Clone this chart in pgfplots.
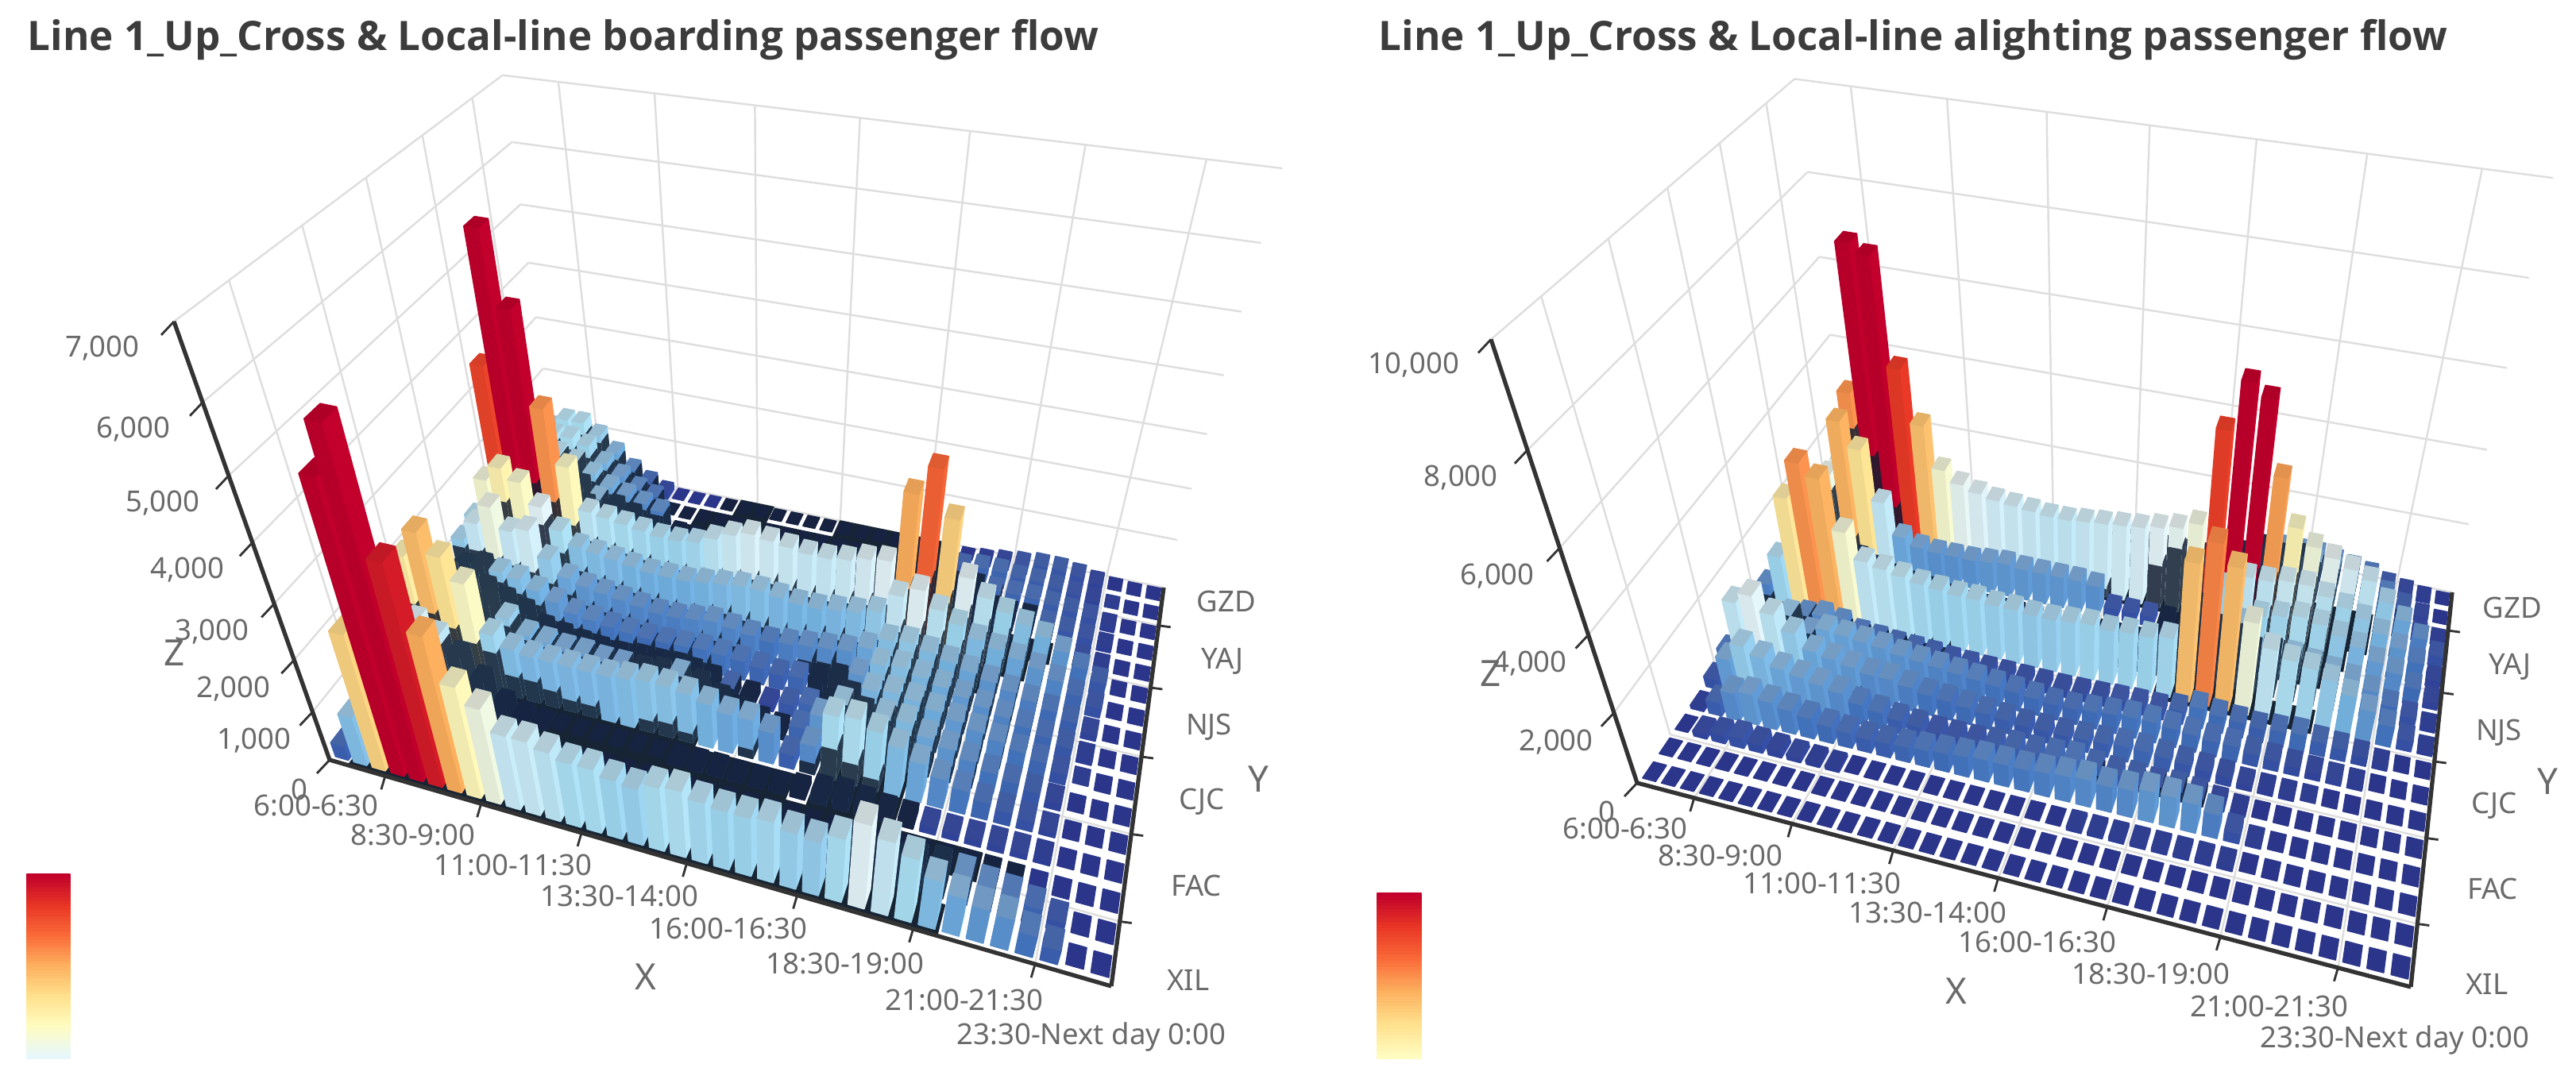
\documentclass[border=0pt]{standalone}
\usepackage{fontspec}
\setmainfont{Noto Sans}
\newfontfamily\titlefont{Open Sans}
\usepackage{pgfplots}
\usepackage{pgfplotstable}
\pgfplotsset{compat=1.18}
\usepgfplotslibrary{patchplots}

\definecolor{gridc}{HTML}{DEDEDE}
\definecolor{axisc}{HTML}{333333}
\definecolor{labc}{HTML}{6A6A6A}
\definecolor{titlec}{HTML}{3C3C3C}

% boarding, rows XIL (front) to GZD (back), columns 6:00 ... 23:30
\pgfplotstableread[header=false]{
300 1000 2650 5200 6000 4100 3000 2200 1900 1500 1500 1400 1300 1300 1200 1150 1300 1350 1250 1200 1200 1250 1150 1100 1300 1700 1500 1300 1000 800 700 650 450 300 60 40
300 700 1000 1200 900 700 500 400 350 300 300 300 280 280 280 280 280 300 300 300 300 300 300 300 350 400 500 600 650 600 500 450 350 200 50 40
400 1000 900 700 400 200 120 60 60 60 60 60 60 60 60 60 60 60 60 60 60 60 60 60 60 60 60 80 100 100 100 80 60 50 40 40
900 1700 1600 1400 1100 700 300 150 100 90 80 80 80 80 80 100 130 130 100 100 100 150 250 300 250 200 180 150 130 130 130 120 100 50 40 40
800 2350 2860 2500 2100 1200 1000 950 950 950 950 950 1000 1050 1050 1000 900 800 800 650 300 600 1300 1350 1200 1000 800 600 480 350 270 200 110 50 40 40
900 1500 1700 1500 1300 1100 850 800 750 750 700 700 700 750 800 700 500 350 250 200 350 700 1050 950 1000 1000 800 680 550 420 330 250 150 60 40 40
800 1100 1100 1100 950 800 550 480 420 380 350 350 350 380 400 350 300 200 150 250 350 450 700 950 1000 950 850 750 650 550 450 350 220 90 45 40
800 1000 1100 1050 1000 850 700 550 500 450 420 400 400 420 450 430 400 350 300 350 400 500 700 1000 1050 950 850 750 650 550 450 350 250 100 45 40
1100 1500 1900 1500 1600 1100 800 700 650 600 550 500 500 550 600 550 500 450 500 550 600 650 800 1050 1100 1000 900 800 700 600 500 400 280 120 50 40
1200 2000 2300 2100 1700 1300 1050 1000 950 900 850 850 850 900 950 1000 1000 950 900 900 950 1000 1100 1500 1700 1400 1200 1000 900 800 700 550 350 200 50 40
1500 3760 5980 4800 3200 2200 1400 1350 1300 1250 1200 1200 1250 1400 1550 1650 1600 1550 1500 1500 1550 1650 1700 3000 3500 2700 1700 1400 1200 1050 900 700 450 250 60 40
1000 1500 1700 1500 1300 1100 900 700 300 120 100 100 100 100 100 100 100 100 100 100 100 100 200 400 500 500 450 400 350 350 300 250 180 100 40 40
1200 1500 1500 1300 1100 900 800 700 500 120 90 90 90 90 90 80 80 80 80 80 80 100 150 250 300 300 350 350 350 350 300 250 200 100 40 40
1500 1400 1300 1200 1000 800 700 600 500 100 90 80 80 80 80 80 80 80 80 80 80 100 150 250 300 300 350 350 350 350 300 250 200 100 40 40
1200 1300 1300 1200 900 700 500 400 80 60 60 60 60 60 60 60 60 60 60 60 60 60 100 200 250 300 350 350 300 300 250 200 150 80 40 40
1100 1300 1300 1100 800 500 300 150 50 40 40 40 40 40 40 40 40 40 40 40 40 40 40 40 40 60 100 150 200 250 250 200 120 60 40 40
}\tabBoard

% alighting
\pgfplotstableread[header=false]{
40 40 40 40 40 40 40 40 40 40 40 40 40 40 40 40 40 40 40 40 40 40 40 40 40 40 40 40 40 40 40 40 40 40 40 40
40 40 40 40 40 40 40 40 40 40 40 40 40 40 40 40 40 40 40 40 40 40 40 40 40 40 40 40 40 40 40 40 40 40 40 40
60 150 250 300 250 200 150 120 100 80 60 60 60 60 60 60 60 60 60 60 100 100 100 100 100 100 100 100 80 60 50 40 40 40 40 40
100 400 800 900 800 700 600 500 450 400 420 450 500 550 600 650 650 650 700 750 800 750 800 900 900 850 700 300 100 60 50 40 40 40 40 40
300 1000 1500 1300 1100 1000 900 800 600 500 400 350 300 300 300 350 400 400 450 500 400 350 350 300 350 300 200 100 60 50 40 40 40 40 40 40
500 2000 2300 1900 1500 1100 1000 900 800 800 700 600 550 500 450 400 350 350 350 380 400 450 450 400 350 300 250 150 120 100 90 80 60 50 40 40
300 1000 1100 1300 900 1100 1050 1000 950 850 800 750 700 650 600 550 500 450 450 500 550 600 600 550 500 450 450 350 300 250 200 150 120 80 50 40
200 500 600 700 800 700 500 450 400 380 350 300 280 260 250 240 230 220 230 250 280 300 300 400 600 500 450 400 450 500 400 350 250 120 60 40
700 1600 3300 4300 4000 2700 2000 1900 1800 1700 1650 1600 1600 1550 1550 1500 1500 1550 1600 1550 1600 1600 1700 3800 4400 3900 2600 2000 1800 1700 1500 1200 900 600 300 100
400 600 700 800 600 500 400 350 300 280 260 240 230 220 220 210 200 200 200 200 200 220 300 500 800 1000 1200 1300 1300 1200 1100 1000 800 500 300 100
500 700 900 1100 800 600 450 350 300 200 120 120 120 120 120 120 120 120 120 120 120 150 300 600 1000 1300 1600 1700 1800 1700 1500 1300 1000 800 500 200
600 1800 2500 4000 3350 2000 1100 900 850 850 850 900 950 900 900 900 900 850 300 300 300 300 300 900 1600 2000 2000 2100 2100 1900 1700 1500 1200 900 600 200
1200 1800 2400 4300 7900 7700 5150 3800 2700 2400 2250 2150 2100 2050 2000 2000 2050 2100 2150 2200 2300 2400 2600 5100 6300 6000 4200 3000 2600 2400 2200 2000 1500 1100 700 300
800 1100 1200 1300 1500 1600 1200 900 500 200 100 100 100 100 100 100 100 100 100 100 100 100 200 400 800 1100 1300 1400 1300 1200 1100 900 700 400 200 100
600 800 900 1000 1100 1200 1000 700 400 100 80 80 80 80 80 80 80 80 80 80 80 80 150 300 600 900 1100 1200 1100 1000 900 800 600 350 150 60
400 600 700 800 900 900 800 600 300 80 60 60 60 60 60 60 60 60 60 60 60 60 100 200 400 700 800 800 800 700 600 500 300 200 100 50
}\tabAlight

\pgfplotsset{
  barpatch/.style={patch, patch type=rectangle, shader=flat, mesh/color input=explicit, forget plot},
  gl/.style={color=gridc, line width=0.7pt, forget plot},
  ax/.style={color=axisc, line width=1.5pt, forget plot},
  tk/.style={color=axisc, line width=0.8pt, forget plot},
}

\ExplSyntaxOn
\intarray_new:Nn \g_rs_val_intarray {576}
\clist_map_inline:nn {a,b,c,d,e,f,g,h,K,Vx,Vy,zmax,lo,hi} { \fp_new:c {g_rs_#1_fp} }
\int_new:N \g_rs_T_int
\int_new:N \g_rs_L_int
\int_new:N \g_rs_C_int
\int_new:N \l_rs_r_int
\int_new:N \l_rs_h_int
\int_new:N \l_rs_p_int
\int_new:N \l_rs_s_int
\tl_new:N \l_rs_coords_tl
\tl_new:N \l_rs_dark_tl
\fp_new:N \l_rs_R_fp
\fp_new:N \l_rs_G_fp
\fp_new:N \l_rs_B_fp
\fp_new:N \l_rs_m_fp

% perspective: floor homography from the four corners
\NewDocumentCommand \SetFloor { m m m m m m m m }
 {
  \fp_set:Nn \l_tmpa_fp { (#3-#5)*(#8-#6) - (#7-#5)*(#4-#6) }
  \fp_gset:Nn \g_rs_g_fp { ((#1-#3+#5-#7)*(#8-#6) - (#7-#5)*(#2-#4+#6-#8)) / \l_tmpa_fp }
  \fp_gset:Nn \g_rs_h_fp { ((#3-#5)*(#2-#4+#6-#8) - (#1-#3+#5-#7)*(#4-#6)) / \l_tmpa_fp }
  \fp_gset:Nn \g_rs_a_fp { #3-#1+\g_rs_g_fp*#3 }
  \fp_gset:Nn \g_rs_b_fp { #7-#1+\g_rs_h_fp*#7 }
  \fp_gset:Nn \g_rs_c_fp { #1 }
  \fp_gset:Nn \g_rs_d_fp { #4-#2+\g_rs_g_fp*#4 }
  \fp_gset:Nn \g_rs_e_fp { #8-#2+\g_rs_h_fp*#8 }
  \fp_gset:Nn \g_rs_f_fp { #2 }
 }
% #1 Ax, #2 Ex, #3 Vx, #4 Vy, #5 zmax, #6 lo, #7 hi, #8 dark floor above, #9 shadow drop per row
\NewDocumentCommand \SetHeight { m m m m m m m m m }
 {
  \fp_gset:Nn \g_rs_K_fp { (#2-#1)/(#3-#2) }
  \fp_gset:Nn \g_rs_Vx_fp { #3 }
  \fp_gset:Nn \g_rs_Vy_fp { #4 }
  \fp_gset:Nn \g_rs_zmax_fp { #5 }
  \fp_gset:Nn \g_rs_lo_fp { #6 }
  \fp_gset:Nn \g_rs_hi_fp { #7 }
  \int_gset:Nn \g_rs_T_int { #8 }
  \int_gset:Nn \g_rs_L_int { #9 }
 }
\NewDocumentCommand \SetCap { m } { \int_gset:Nn \g_rs_C_int {#1} }
\cs_new:Npn \rs_X:nnn #1#2#3
 { \fp_eval:n { round( (\g_rs_a_fp*(#1)+\g_rs_b_fp*(#2)+\g_rs_c_fp+\g_rs_K_fp*(#3)*\g_rs_Vx_fp) / (\g_rs_g_fp*(#1)+\g_rs_h_fp*(#2)+1+\g_rs_K_fp*(#3)) ,1) } }
\cs_new:Npn \rs_Y:nnn #1#2#3
 { \fp_eval:n { round( (\g_rs_d_fp*(#1)+\g_rs_e_fp*(#2)+\g_rs_f_fp+\g_rs_K_fp*(#3)*\g_rs_Vy_fp) / (\g_rs_g_fp*(#1)+\g_rs_h_fp*(#2)+1+\g_rs_K_fp*(#3)) ,1) } }
\cs_new:Npn \rs_pt:nnn #1#2#3 { ( \rs_X:nnn{#1}{#2}{#3} , \rs_Y:nnn{#1}{#2}{#3} ) }

% values of one table into the integer array
\tl_new:N \l_rs_tab_tl
\cs_new_protected:Npn \rs_load_row:n #1
 {
  \int_set:Nn \l_rs_r_int {#1}
  \int_step_function:nnnN {0}{1}{35} \rs_load_cell:n
 }
\cs_new_protected:Npn \rs_load_cell:n #1
 {
  \use:x { \exp_not:N \pgfplotstablegetelem {\int_use:N \l_rs_r_int} {[index]#1} \exp_not:N \of \exp_not:V \l_rs_tab_tl }
  \intarray_gset:Nnn \g_rs_val_intarray { \l_rs_r_int*36+#1+1 } { \pgfplotsretval }
 }
\NewDocumentCommand \LoadData { m }
 {
  \tl_set:Nn \l_rs_tab_tl {#1}
  \int_step_function:nnnN {0}{1}{15} \rs_load_row:n
 }
\cs_new:Npn \rs_val:nn #1#2
 {
  \int_compare:nNnTF {#1} < {0} {0}
   { \int_compare:nNnTF {#1} > {15} {0}
     { \intarray_item:Nn \g_rs_val_intarray { (#1)*36+(#2)+1 } } }
 }

% palette, 101 levels, four tones
\clist_const:Nn \c_rs_sr_clist {.169,.271,.455,.682,.902,1,1,.992,.98,.91,.76}
\clist_const:Nn \c_rs_sg_clist {.2,.47,.706,.89,.969,.988,.878,.69,.416,.208,0}
\clist_const:Nn \c_rs_sb_clist {.58,.769,.902,.973,.988,.753,.549,.369,.22,.145,.169}
\cs_new_protected:Npn \rs_mk:n #1
 {
  \fp_set:Nn \l_tmpa_fp { #1/100 }
  \int_set:Nn \l_tmpa_int { \int_div_truncate:nn {#1}{10} }
  \tl_set:Nx \l_tmpa_tl { \fp_eval:n { (#1-10*\l_tmpa_int)/10 } }
  \fp_set:Nn \l_rs_R_fp { ( \clist_item:Nn \c_rs_sr_clist {\l_tmpa_int+1} )*(1-\l_tmpa_tl) + ( \clist_item:Nn \c_rs_sr_clist {\int_min:nn{\l_tmpa_int+1}{10}+1} )*\l_tmpa_tl }
  \fp_set:Nn \l_rs_G_fp { ( \clist_item:Nn \c_rs_sg_clist {\l_tmpa_int+1} )*(1-\l_tmpa_tl) + ( \clist_item:Nn \c_rs_sg_clist {\int_min:nn{\l_tmpa_int+1}{10}+1} )*\l_tmpa_tl }
  \fp_set:Nn \l_rs_B_fp { ( \clist_item:Nn \c_rs_sb_clist {\l_tmpa_int+1} )*(1-\l_tmpa_tl) + ( \clist_item:Nn \c_rs_sb_clist {\int_min:nn{\l_tmpa_int+1}{10}+1} )*\l_tmpa_tl }
  \fp_set:Nn \l_rs_m_fp { .3*min(1,\l_tmpa_fp/.2)*max(0,min(1,(.65-\l_tmpa_fp)/.15)) }
  \tl_gset:cx {g_rs_side_#1_tl}
   { \fp_eval:n{round(\l_rs_R_fp,3)},\fp_eval:n{round(\l_rs_G_fp,3)},\fp_eval:n{round(\l_rs_B_fp,3)} }
  \tl_gset:cx {g_rs_front_#1_tl}
   { \fp_eval:n{round(.94*\l_rs_R_fp,3)},\fp_eval:n{round(.94*\l_rs_G_fp,3)},\fp_eval:n{round(.94*\l_rs_B_fp,3)} }
  \tl_gset:cx {g_rs_top_#1_tl}
   { \fp_eval:n{round(.9*\l_rs_R_fp*(1-\l_rs_m_fp)+.75*\l_rs_m_fp,3)},\fp_eval:n{round(.9*\l_rs_G_fp*(1-\l_rs_m_fp)+.75*\l_rs_m_fp,3)},\fp_eval:n{round(.9*\l_rs_B_fp*(1-\l_rs_m_fp)+.75*\l_rs_m_fp,3)} }
  \tl_gset:cx {g_rs_dark_#1_tl}
   { \fp_eval:n{round(.15*\l_rs_R_fp+.06,3)},\fp_eval:n{round(.15*\l_rs_G_fp+.1,3)},\fp_eval:n{round(.15*\l_rs_B_fp+.16,3)} }
 }
\int_step_function:nnnN {0}{1}{100} \rs_mk:n

% one bar as patches
\tl_new:N \l_rs_ua_tl \tl_new:N \l_rs_ub_tl \tl_new:N \l_rs_va_tl \tl_new:N \l_rs_vb_tl \tl_new:N \l_rs_z_tl
\clist_map_inline:nn {Baa,Bba,Bbb,Bab,Taa,Tba,Tbb,Tab,Maa,Mba,Mbb} { \tl_new:c {l_rs_#1_tl} }
\cs_new_protected:Npn \rs_face:NNNNn #1#2#3#4#5
 { \tl_put_right:Nx \l_rs_coords_tl { #1[#5]#2[#5]#3[#5]#4[#5] } }
\cs_new_protected:Npn \rs_quad:nnnnn #1#2#3#4#5
 { \tl_put_right:Nx \l_rs_coords_tl { #1[#5]#2[#5]#3[#5]#4[#5] } }
% shadow thrown backwards and to the left by the bar k rows in front
\cs_new_protected:Npn \rs_sh:nn #1#2
 {
  \int_set:Nn \l_tmpa_int
   { \int_min:nn { \rs_val:nn {\l_rs_r_int-#2} { \int_min:nn {35} {#1+\int_div_truncate:nn{3*#2}{4}} } } { \g_rs_C_int } - #2*\g_rs_L_int }
  \int_compare:nNnT { \l_tmpa_int } > { \l_rs_s_int } { \int_set_eq:NN \l_rs_s_int \l_tmpa_int }
 }
\cs_new_protected:Npn \rs_bar:n #1
 {
  \int_set:Nn \l_rs_h_int { \rs_val:nn {\l_rs_r_int}{#1} }
  \int_set:Nn \l_rs_p_int { \fp_eval:n { round(100*min(1,max(0,(\l_rs_h_int-\g_rs_lo_fp)/(\g_rs_hi_fp-\g_rs_lo_fp)))) } }
  \int_zero:N \l_rs_s_int
  \rs_sh:nn {#1}{1} \rs_sh:nn {#1}{2} \rs_sh:nn {#1}{3} \rs_sh:nn {#1}{4}
  \rs_sh:nn {#1}{5} \rs_sh:nn {#1}{6} \rs_sh:nn {#1}{7} \rs_sh:nn {#1}{8}
  \int_compare:nNnT { \l_rs_s_int } < {150} { \int_zero:N \l_rs_s_int }
  \tl_set:Nx \l_rs_dark_tl { \tl_use:c {g_rs_dark_\int_use:N \l_rs_p_int _tl} }
  \tl_set:Nx \l_rs_ua_tl { \fp_eval:n { (#1+.15)/36 } }
  \tl_set:Nx \l_rs_ub_tl { \fp_eval:n { (#1+.85)/36 } }
  \tl_set:Nx \l_rs_va_tl { \fp_eval:n { (\l_rs_r_int+.17)/16 } }
  \tl_set:Nx \l_rs_vb_tl { \fp_eval:n { (\l_rs_r_int+.83)/16 } }
  \tl_set:Nx \l_rs_z_tl { \fp_eval:n { \l_rs_h_int/\g_rs_zmax_fp } }
  % dark floor deep in the shadow and under tall bars
  \bool_lazy_or:nnT { \int_compare_p:nNn { \l_rs_s_int } > { \l_rs_h_int+200 } } { \int_compare_p:nNn { \l_rs_h_int } > { \g_rs_T_int } }
   {
    \rs_quad:nnnnn
     { \rs_pt:nnn { #1/36 } { \l_rs_r_int/16 } {0} }
     { \rs_pt:nnn { (#1+1)/36 } { \l_rs_r_int/16 } {0} }
     { \rs_pt:nnn { (#1+1)/36 } { (\l_rs_r_int+1)/16 } {0} }
     { \rs_pt:nnn { #1/36 } { (\l_rs_r_int+1)/16 } {0} }
     { .09,.14,.2 }
   }
  \tl_set:Nx \l_rs_Taa_tl { \rs_pt:nnn {\l_rs_ua_tl}{\l_rs_va_tl}{\l_rs_z_tl} }
  \tl_set:Nx \l_rs_Tba_tl { \rs_pt:nnn {\l_rs_ub_tl}{\l_rs_va_tl}{\l_rs_z_tl} }
  \tl_set:Nx \l_rs_Tbb_tl { \rs_pt:nnn {\l_rs_ub_tl}{\l_rs_vb_tl}{\l_rs_z_tl} }
  \tl_set:Nx \l_rs_Tab_tl { \rs_pt:nnn {\l_rs_ua_tl}{\l_rs_vb_tl}{\l_rs_z_tl} }
  \int_compare:nNnT { \l_rs_h_int } > {90}
   {
    \tl_set:Nx \l_rs_Baa_tl { \rs_pt:nnn {\l_rs_ua_tl}{\l_rs_va_tl}{0} }
    \tl_set:Nx \l_rs_Bba_tl { \rs_pt:nnn {\l_rs_ub_tl}{\l_rs_va_tl}{0} }
    \tl_set:Nx \l_rs_Bbb_tl { \rs_pt:nnn {\l_rs_ub_tl}{\l_rs_vb_tl}{0} }
    \tl_set:Nx \l_rs_Bab_tl { \rs_pt:nnn {\l_rs_ua_tl}{\l_rs_vb_tl}{0} }
    \tl_set:Nx \l_rs_z_tl { \fp_eval:n { min(\l_rs_s_int,\l_rs_h_int)/\g_rs_zmax_fp } }
    \tl_set:Nx \l_rs_Maa_tl { \rs_pt:nnn {\l_rs_ua_tl}{\l_rs_va_tl}{\l_rs_z_tl} }
    \tl_set:Nx \l_rs_Mba_tl { \rs_pt:nnn {\l_rs_ub_tl}{\l_rs_va_tl}{\l_rs_z_tl} }
    \tl_set:Nx \l_rs_Mbb_tl { \rs_pt:nnn {\l_rs_ub_tl}{\l_rs_vb_tl}{\l_rs_z_tl} }
    \int_compare:nNnTF {#1} < {31}
     {
      \rs_face:NNNNn \l_rs_Bba_tl \l_rs_Bbb_tl \l_rs_Tbb_tl \l_rs_Tba_tl { \tl_use:c {g_rs_side_\int_use:N \l_rs_p_int _tl} }
      \int_compare:nNnT { \l_rs_s_int } > {0}
       { \rs_face:NNNNn \l_rs_Bba_tl \l_rs_Bbb_tl \l_rs_Mbb_tl \l_rs_Mba_tl { \l_rs_dark_tl } }
     }
     {
      \rs_face:NNNNn \l_rs_Baa_tl \l_rs_Bab_tl \l_rs_Tab_tl \l_rs_Taa_tl { \tl_use:c {g_rs_front_\int_use:N \l_rs_p_int _tl} }
     }
    \rs_face:NNNNn \l_rs_Baa_tl \l_rs_Bba_tl \l_rs_Tba_tl \l_rs_Taa_tl
     { \tl_use:c {g_rs_front_\int_use:N \l_rs_p_int _tl} }
    \int_compare:nNnT { \l_rs_s_int } > {0}
     { \rs_face:NNNNn \l_rs_Baa_tl \l_rs_Bba_tl \l_rs_Mba_tl \l_rs_Maa_tl { \l_rs_dark_tl } }
   }
  \int_compare:nNnTF { \l_rs_s_int } > { \l_rs_h_int }
   { \rs_face:NNNNn \l_rs_Taa_tl \l_rs_Tba_tl \l_rs_Tbb_tl \l_rs_Tab_tl { \l_rs_dark_tl } }
   { \rs_face:NNNNn \l_rs_Taa_tl \l_rs_Tba_tl \l_rs_Tbb_tl \l_rs_Tab_tl { \tl_use:c {g_rs_top_\int_use:N \l_rs_p_int _tl} } }
 }
\cs_new_protected:Npn \rs_plot:
 { \use:x { \exp_not:N \addplot [barpatch] coordinates { \exp_not:V \l_rs_coords_tl } ; } }
\cs_new_protected:Npn \rs_row:n #1
 {
  \int_set:Nn \l_rs_r_int {#1}
  \tl_clear:N \l_rs_coords_tl
  \int_step_function:nnnN {0}{1}{30} \rs_bar:n
  \int_step_function:nnnN {35}{-1}{31} \rs_bar:n
  \rs_plot:
 }
\NewDocumentCommand \DrawBars { } { \int_step_function:nnnN {15}{-1}{0} \rs_row:n }

% #1-#3 and #4-#6 are (u,v,z) in the unit box, #7 the style
\cs_new_protected:Npn \rs_line:nnnnnnn #1#2#3#4#5#6#7
 { \use:x { \exp_not:N \addplot [#7] coordinates { \rs_pt:nnn{#1}{#2}{#3} \rs_pt:nnn{#4}{#5}{#6} } ; } }
\cs_new_protected:Npn \rs_tick:nnnnn #1#2#3#4#5
 { \use:x { \exp_not:N \addplot [tk] coordinates { \rs_pt:nnn{#1}{#2}{#3} ( \fp_eval:n { \rs_X:nnn{#1}{#2}{#3} + (#4) } , \fp_eval:n { \rs_Y:nnn{#1}{#2}{#3} + (#5) } ) } ; } }
% #1 number of z divisions
\NewDocumentCommand \DrawGrid { m }
 {
  \int_step_inline:nnn {1}{#1}
   {
    \rs_line:nnnnnnn {0}{0}{##1/#1}{0}{1}{##1/#1}{gl}
    \rs_line:nnnnnnn {0}{1}{##1/#1}{1}{1}{##1/#1}{gl}
   }
  \clist_map_inline:nn {3,8,13,18,23,28,33}
   {
    \rs_line:nnnnnnn {##1/36}{1}{0}{##1/36}{1}{1}{gl}
    \rs_line:nnnnnnn {##1/36}{0}{0}{##1/36}{1}{0}{gl}
   }
  \clist_map_inline:nn {2,5,8,11,14}
   {
    \rs_line:nnnnnnn {0}{##1/16}{0}{0}{##1/16}{1}{gl}
    \rs_line:nnnnnnn {0}{##1/16}{0}{1}{##1/16}{0}{gl}
   }
  \rs_line:nnnnnnn {0}{1}{0}{1}{1}{0}{gl}
 }
\NewDocumentCommand \DrawAxes { m }
 {
  \rs_line:nnnnnnn {0}{0}{0}{0}{0}{1}{ax}
  \rs_line:nnnnnnn {0}{0}{0}{1}{0}{0}{ax}
  \rs_line:nnnnnnn {1}{0}{0}{1}{1}{0}{ax}
  \int_step_inline:nnn {0}{#1} { \rs_tick:nnnnn {0}{0}{##1/#1}{-16}{17} }
  \clist_map_inline:nn {3,8,13,18,23,28,33} { \rs_tick:nnnnn {##1/36}{0}{0}{-5}{17} }
  \clist_map_inline:nn {2,5,8,11,14} { \rs_tick:nnnnn {1}{##1/16}{0}{15}{2} }
 }
% colour bar from level #5 at the bottom to 100 at the top, widest strip first
\NewDocumentCommand \DrawBar { m m m m m }
 {
  \tl_clear:N \l_rs_coords_tl
  \int_step_inline:nnnn {100}{-1}{#5}
   {
    \fp_set:Nn \l_tmpa_fp { #4+(#3-(#4))*(##1+1-#5)/(101-#5) }
    \tl_set:Nx \l_tmpa_tl { \fp_eval:n { round(\l_tmpa_fp,1) } }
    \tl_set:Nx \l_tmpb_tl { \tl_use:c {g_rs_side_##1_tl} }
    \tl_put_right:Nx \l_rs_coords_tl
     { (#1,#4)[\l_tmpb_tl](#2,#4)[\l_tmpb_tl](#2,\l_tmpa_tl)[\l_tmpb_tl](#1,\l_tmpa_tl)[\l_tmpb_tl] }
   }
  \rs_plot:
 }
\ExplSyntaxOff

\newcommand\Lab[3]{\node[text=labc, font=\fontsize{10.4pt}{12pt}\selectfont, inner sep=0pt] at (axis cs:#1,#2) {#3};}
\newcommand\Nam[3]{\node[text=labc, font=\fontsize{13pt}{15pt}\selectfont, inner sep=0pt] at (axis cs:#1,#2) {#3};}
\newcommand\Ttl[2]{\node[text=titlec, anchor=west, font=\titlefont\fontsize{14.55pt}{16pt}\selectfont\bfseries, inner sep=0pt] at (axis cs:#1,50) {#2};}

\pgfplotsset{pixaxis/.style={
  axis lines=none, clip=false, y dir=reverse, scale only axis, enlargelimits=false,
  ymin=0, ymax=1368, height=13.68cm, no markers,
}}

\begin{document}
\begin{tikzpicture}[x=1cm,y=1cm]
\path[use as bounding box] (0,0) rectangle (32.43,13.68);

\LoadData{\tabBoard}
\SetFloor{415}{957}{1399}{1242}{1465}{740}{700}{582}
\SetHeight{415}{219}{966}{2509}{7000}{0}{4300}{900}{270}
\SetCap{2000}
\begin{axis}[pixaxis, at={(0cm,0cm)}, anchor=south west, width=16.2cm, xmin=0, xmax=1620]
\DrawGrid{7}
\DrawBars
\DrawAxes{7}
\DrawBar{34}{88}{1101}{1333}{40}
\Ttl{34}{Line 1\_Up\_Cross \& Local-line boarding passenger flow}
\Lab{129}{439}{7,000}\Lab{168}{541}{6,000}\Lab{205}{634}{5,000}\Lab{236}{718}{4,000}
\Lab{267}{796}{3,000}\Lab{294}{868}{2,000}\Lab{320}{933}{1,000}\Lab{377}{994}{0}
\Lab{398}{1014}{6:00-6:30}\Lab{520}{1051}{8:30-9:00}\Lab{646}{1089}{11:00-11:30}\Lab{780}{1128}{13:30-14:00}
\Lab{917}{1169}{16:00-16:30}\Lab{1064}{1213}{18:30-19:00}\Lab{1214}{1259}{21:00-21:30}\Lab{1374}{1306}{23:30-Next day 0:00}
\Lab{1544}{757}{GZD}\Lab{1539}{833}{YAJ}\Lab{1522}{916}{NJS}\Lab{1513}{1010}{CJC}\Lab{1506}{1115}{FAC}\Lab{1496}{1234}{XIL}
\Nam{220}{822}{Z}\Nam{813}{1230}{X}\Nam{1584}{981}{Y}
\end{axis}

\LoadData{\tabAlight}
\SetFloor{2061}{986}{3035}{1243}{3087}{746}{2328}{595}
\SetHeight{2061}{1877}{2617}{2674}{10000}{0}{5800}{1600}{650}
\SetCap{5000}
\begin{axis}[pixaxis, at={(16.2cm,0cm)}, anchor=south west, width=16.23cm, xmin=1620, xmax=3243]
\DrawGrid{5}
\DrawBars
\DrawAxes{5}
\DrawBar{1734}{1789}{1125}{1333}{50}
\Ttl{1735}{Line 1\_Up\_Cross \& Local-line alighting passenger flow}
\Lab{1780}{460}{10,000}\Lab{1839}{602}{8,000}\Lab{1885}{726}{6,000}\Lab{1926}{836}{4,000}\Lab{1959}{935}{2,000}\Lab{2023}{1022}{0}
\Lab{2046}{1043}{6:00-6:30}\Lab{2166}{1077}{8:30-9:00}\Lab{2294}{1112}{11:00-11:30}\Lab{2427}{1149}{13:30-14:00}
\Lab{2565}{1186}{16:00-16:30}\Lab{2708}{1226}{18:30-19:00}\Lab{2857}{1267}{21:00-21:30}\Lab{3015}{1310}{23:30-Next day 0:00}
\Lab{3163}{765}{GZD}\Lab{3160}{840}{YAJ}\Lab{3146}{923}{NJS}\Lab{3140}{1015}{CJC}\Lab{3138}{1119}{FAC}\Lab{3131}{1239}{XIL}
\Nam{1877}{848}{Z}\Nam{2463}{1248}{X}\Nam{3207}{984}{Y}
\end{axis}
\end{tikzpicture}
\end{document}
